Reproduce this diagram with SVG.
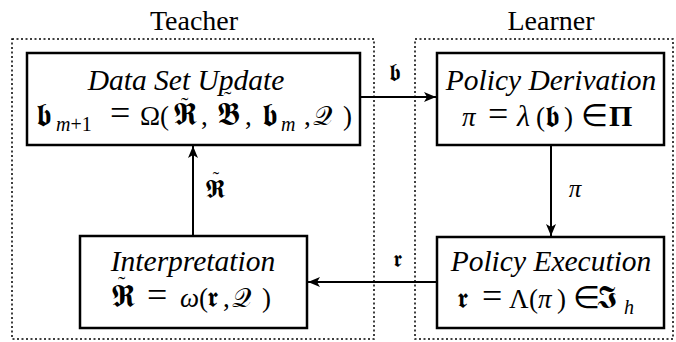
<svg xmlns="http://www.w3.org/2000/svg" width="676" height="342" viewBox="0 0 676 342">
<style>
text,tspan{font-family:'Liberation Serif',serif}
.region{fill:none;stroke:#000;stroke-width:1.5;stroke-dasharray:2 2.5}
.box{fill:#fff;stroke:#000;stroke-width:2.5}
.edge{stroke:#000;stroke-width:2;fill:none}
.i{font-style:italic}
.sub{font-size:20px}
.mid{text-anchor:middle}
.head{font-size:29.5px;font-style:italic;text-anchor:middle}
.eq{font-size:36px}
.fk{font-size:32px}
.tl{font-size:22px}
</style>
<defs>
<marker id="ah" viewBox="0 0 12 10" refX="12" refY="5" markerWidth="12" markerHeight="10" markerUnits="userSpaceOnUse" orient="auto">
<path d="M0,0 L12,5 L0,10 L3,5 Z" fill="#000"/>
</marker>
</defs>
<g id="teacher-region">
<rect class="region" x="12" y="39" width="362" height="300"/>
<text font-family="'Liberation Serif', serif" font-size="28" class="mid" x="194" y="30">Teacher</text>
</g>
<g id="learner-region">
<rect class="region" x="415" y="39" width="258" height="300"/>
<text font-family="'Liberation Serif', serif" font-size="28" class="mid" x="551" y="30">Learner</text>
</g>
<g id="edges">
<line class="edge" x1="360" y1="97" x2="436" y2="97" marker-end="url(#ah)"/>
<line class="edge" x1="551" y1="145" x2="551" y2="236" marker-end="url(#ah)"/>
<line class="edge" x1="437" y1="282" x2="308" y2="282" marker-end="url(#ah)"/>
<line class="edge" x1="193" y1="236" x2="193" y2="146" marker-end="url(#ah)"/>
<text font-family="'Liberation Serif', serif" class="mid" x="395" y="80" font-size="24">𝖇</text>
<text font-family="'Liberation Serif', serif" class="mid i" x="575" y="197" font-size="25">π</text>
<text font-family="'Liberation Serif', serif" class="mid" x="397" y="267" font-size="23">𝖗</text>
<text font-family="'Liberation Serif', serif" font-size="27" x="205" y="198">𝕽<tspan class="mid" x="216" y="185" font-size="19">˜</tspan></text>
</g>
<g id="data-set-update">
<rect class="box" x="27" y="53" width="333" height="92"/>
<text font-family="'Liberation Serif', serif" class="head" x="186" y="90">Data Set Update</text>
<text font-family="'Liberation Serif', serif" font-size="27" x="36" y="125"><tspan class="fk">𝖇</tspan><tspan x="56" y="131" class="sub i">m</tspan><tspan class="sub">+1</tspan><tspan x="110" y="125" class="eq">=</tspan><tspan x="140">Ω(</tspan><tspan x="173" class="fk">𝕽</tspan><tspan x="201">,</tspan><tspan x="217" class="fk">𝕭</tspan><tspan x="245">,</tspan><tspan x="262" class="fk">𝖇</tspan><tspan x="281" y="131" class="sub i">m</tspan><tspan x="304" y="125">,</tspan><tspan x="313">𝒬</tspan><tspan x="343">)</tspan><tspan x="181" y="112" class="tl">˜</tspan><tspan x="224" y="106" class="tl">˜</tspan></text>
</g>
<g id="policy-derivation">
<rect class="box" x="437" y="53" width="227" height="92"/>
<text font-family="'Liberation Serif', serif" class="head" x="551" y="90">Policy Derivation</text>
<text font-family="'Liberation Serif', serif" font-size="27" x="462" y="126"><tspan class="i">π</tspan><tspan x="488" class="eq">=</tspan><tspan x="517" class="i" font-size="30">λ</tspan><tspan x="536">(</tspan><tspan x="545" font-size="30">𝖇</tspan><tspan x="564">)</tspan><tspan x="581" font-size="31">∈</tspan><tspan x="609" font-weight="bold" font-size="30">Π</tspan></text>
</g>
<g id="interpretation">
<rect class="box" x="80" y="236" width="227" height="92"/>
<text font-family="'Liberation Serif', serif" class="head" x="193" y="271">Interpretation</text>
<text font-family="'Liberation Serif', serif" font-size="27" x="111" y="307"><tspan class="fk">𝕽</tspan><tspan x="147" class="eq">=</tspan><tspan x="180" class="i">ω</tspan><tspan x="199">(</tspan><tspan x="207" font-size="28">𝖗</tspan><tspan x="223">,</tspan><tspan x="232">𝒬</tspan><tspan x="262">)</tspan><tspan x="118" y="291" class="tl">˜</tspan></text>
</g>
<g id="policy-execution">
<rect class="box" x="437" y="237" width="227" height="91"/>
<text font-family="'Liberation Serif', serif" class="head" x="551" y="271">Policy Execution</text>
<text font-family="'Liberation Serif', serif" font-size="27" x="457" y="308"><tspan font-size="28">𝖗</tspan><tspan x="482" class="eq">=</tspan><tspan x="509">Λ</tspan><tspan x="529">(</tspan><tspan x="538" class="i">π</tspan><tspan x="557">)</tspan><tspan x="573" font-size="31">∈</tspan><tspan x="597" class="fk">𝕴</tspan><tspan x="624" y="314" class="sub i">h</tspan></text>
</g>
</svg>
